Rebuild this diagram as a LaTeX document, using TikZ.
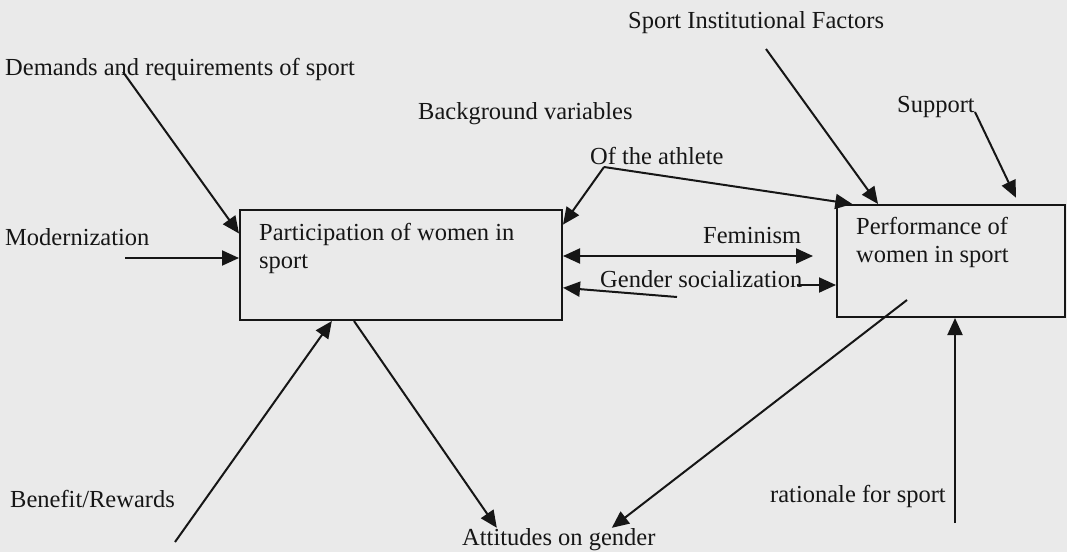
\documentclass[tikz,border=0pt]{standalone}
\usepackage{fontspec}
\setmainfont{Liberation Serif}
\usepackage{tikz}
\usetikzlibrary{arrows.meta}
\definecolor{paper}{RGB}{234, 234, 234}
\definecolor{ink}{RGB}{22, 22, 22}

\begin{document}
\begin{tikzpicture}[
        x=1pt, y=-1pt,
        % --- TikZ Styles ---
        basetext/.style={
            inner sep=0pt, text=ink, align=left,
            font=\fontsize{24.5}{28}\selectfont
        },
        factor/.style={basetext, anchor=base west},
        boxtext/.style={basetext, anchor=north west},
        conceptbox/.style={draw=ink, line width=2pt, inner sep=0pt},
        arrow/.style={draw=ink, line width=2pt, -{Triangle[length=17pt, width=15pt]}},
        dblarrow/.style={arrow, {Triangle[length=17pt, width=15pt]}-{Triangle[length=17pt, width=15pt]}}
    ]

    % --- 0. PAGE ---
    \path[use as bounding box, fill=paper] (0,0) rectangle (1067,552);

    % --- 1. MAIN BOXES ---
    \node[conceptbox, minimum width=322pt, minimum height=110pt] (partic) at (401,265) {};
    \node[boxtext] (partictext) at ([xshift=20pt, yshift=-14pt]partic.north west) {Participation of women in\\sport};

    \node[conceptbox, minimum width=228pt, minimum height=112pt] (perform) at (951,261) {};
    \node[boxtext] (performtext) at ([xshift=20pt, yshift=-13pt]perform.north west) {Performance of\\women in sport};

    % --- 2. FACTORS ---
    \node[factor] (demands) at (5,75) {Demands and requirements of sport};
    \node[factor] (modern) at (5,245) {Modernization};
    \node[factor] (backgr) at (418,119) {Background variables};
    \node[factor] (athlete) at (590,164) {Of the athlete};
    \node[factor] (instit) at (628,28) {Sport Institutional Factors};
    \node[factor] (support) at (897,112) {Support};
    \node[factor] (feminism) at (703,243) {Feminism};
    \node[factor] (gendersoc) at (600,287) {Gender socialization};
    \node[factor] (benefit) at (10,507) {Benefit/Rewards};
    \node[factor] (attitudes) at (462,545) {Attitudes on gender};
    \node[factor] (rationale) at (770,502) {rationale for sport};

    % --- CONNECTIONS ---
    % free ends of the arrows
    \coordinate (demandsout) at (123,72);
    \coordinate (modernout) at (125,258);
    \coordinate (athletefork) at (604,167);
    \coordinate (institout) at (766,49);
    \coordinate (feminismend) at (813,256);
    \coordinate (gendersocleft) at (677,297);
    \coordinate (gendersocright) at (797,285);
    \coordinate (benefitout) at (175,542);
    \coordinate (performout) at (907,300);
    \coordinate (rationaleout) at (955,523);

    % into participation
    \draw[arrow] (demandsout) -- (partic.169);
    \draw[arrow] (modernout) -- (modernout -| partic.west);
    \draw[arrow] (athletefork) -- (partic.14);
    \draw[arrow] (benefitout) -- (partic.219);

    % into performance
    \draw[arrow] (athletefork) -- (perform.150);
    \draw[arrow] (institout) -- (perform.142);
    \draw[arrow, shorten >=7pt] (support.base east) -- (perform.40);
    \draw[arrow] (rationaleout) -- (rationaleout |- perform.south);

    % between the boxes
    \draw[dblarrow] (feminismend -| partic.east) -- (feminismend);
    \draw[arrow] (gendersocleft) -- (partic.352);
    \draw[arrow] (gendersocright) -- (gendersocright -| perform.west);

    % out to attitudes
    \draw[arrow] (partic.230) -- ([xshift=-62pt]attitudes.north);
    \draw[arrow] (performout) -- ([xshift=53pt]attitudes.north);

\end{tikzpicture}
\end{document}
